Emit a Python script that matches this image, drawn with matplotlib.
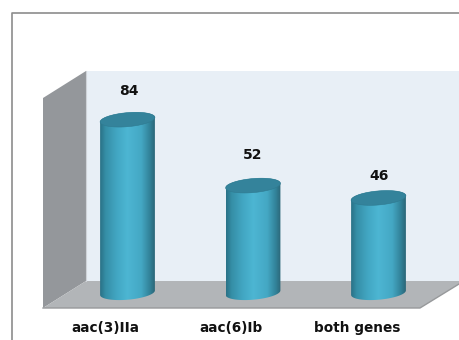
import numpy as np
import matplotlib
matplotlib.use("Agg")
import matplotlib.pyplot as plt
from matplotlib.colors import LinearSegmentedColormap
from matplotlib.patches import Polygon

categories = ["aac(3)IIa", "aac(6)Ib", "both genes"]
values = [84, 52, 46]

W, H = 459, 340

# pixel layout of the chart
x0_px, x_step = 127.5, 125.5
y0_px, y_scale = 292.7, 2.06
half_w, half_h = 27.5, 7.0
tilt = np.radians(5)
label_up = [28.7, 30.6, 21.9]
label_shift = [1.5, 0, 1]
tick_x = [105.5, 231, 357.5]

fig = plt.figure(figsize=(W / 100, H / 100), dpi=100)

# room, drawn in pixel coordinates
bg = fig.add_axes([0, 0, 1, 1])
bg.set_xlim(0, W)
bg.set_ylim(H, 0)
bg.axis("off")
bg.add_patch(Polygon([(86, 71), (459, 71), (459, 281), (86, 281)], fc="#e8eff6", ec="none"))
bg.add_patch(Polygon([(43, 98), (86, 71), (86, 281), (43, 308)], fc="#94979b", ec="none"))
bg.add_patch(Polygon([(43, 308), (86, 281), (459, 281), (459, 284), (420, 308)], fc="#b2b5b8", ec="none"))
bg.plot([43, 420, 459], [308, 308, 284], color="#97999b", lw=1)
bg.plot([86, 86], [71, 281], color="#cfd3d8", lw=0.8)
bg.plot([12, 12, 459], [H, 13, 13], color="#8c8c8c", lw=1.2)

# bars live on their own axes, value scale is linear
ax = fig.add_axes([0, 0, 1, 1])
ax.patch.set_alpha(0)
ax.axis("off")

cmap = LinearSegmentedColormap.from_list(
    "cyl", [(0, "#2a7186"), (0.1, "#358ea6"), (0.3, "#42a6c2"), (0.5, "#4db6d3"),
            (0.75, "#44a8c4"), (0.9, "#33849b"), (1, "#2b6678")]
)
grad = np.linspace(0, 1, 256)[None, :]


def arc(cx, cy, t):
    # tilted ellipse, offsets in pixels turned into data units
    dx = half_w * np.cos(t) * np.cos(tilt) - half_h * np.sin(t) * np.sin(tilt)
    dy = half_w * np.cos(t) * np.sin(tilt) + half_h * np.sin(t) * np.cos(tilt)
    return np.column_stack([cx + dx / x_step, cy + dy / y_scale])


for i, v in enumerate(values):
    upper = arc(i, v, np.linspace(0, np.pi, 40))
    lower = arc(i, 0, np.linspace(np.pi, 2 * np.pi, 40))
    body = Polygon(np.vstack([upper, lower]), fc="none", ec="none", transform=ax.transData)
    ax.add_patch(body)
    left, right = i - half_w / x_step, i + half_w / x_step
    im = ax.imshow(grad, cmap=cmap, aspect="auto", extent=(left, right, -10, v + 10), zorder=2)
    im.set_clip_path(body)
    top = arc(i, v, np.linspace(0, 2 * np.pi, 80))
    ax.add_patch(Polygon(top, fc="#34839b", ec="#2f7a90", lw=0.4, zorder=3))
    ax.text(i + label_shift[i] / x_step, v + label_up[i] / y_scale, str(v), ha="center", va="center",
            fontsize=10, fontweight="bold", color="#111111", zorder=4)

# imshow resets the limits, so set them once everything is on
ax.set_xlim(-x0_px / x_step, (W - x0_px) / x_step)
ax.set_ylim((y0_px - H) / y_scale, y0_px / y_scale)

for name, x in zip(categories, tick_x):
    bg.text(x, 328, name, ha="center", va="center", fontsize=9.8, fontweight="bold", color="#111111")

fig.savefig("out.png", dpi=100)
